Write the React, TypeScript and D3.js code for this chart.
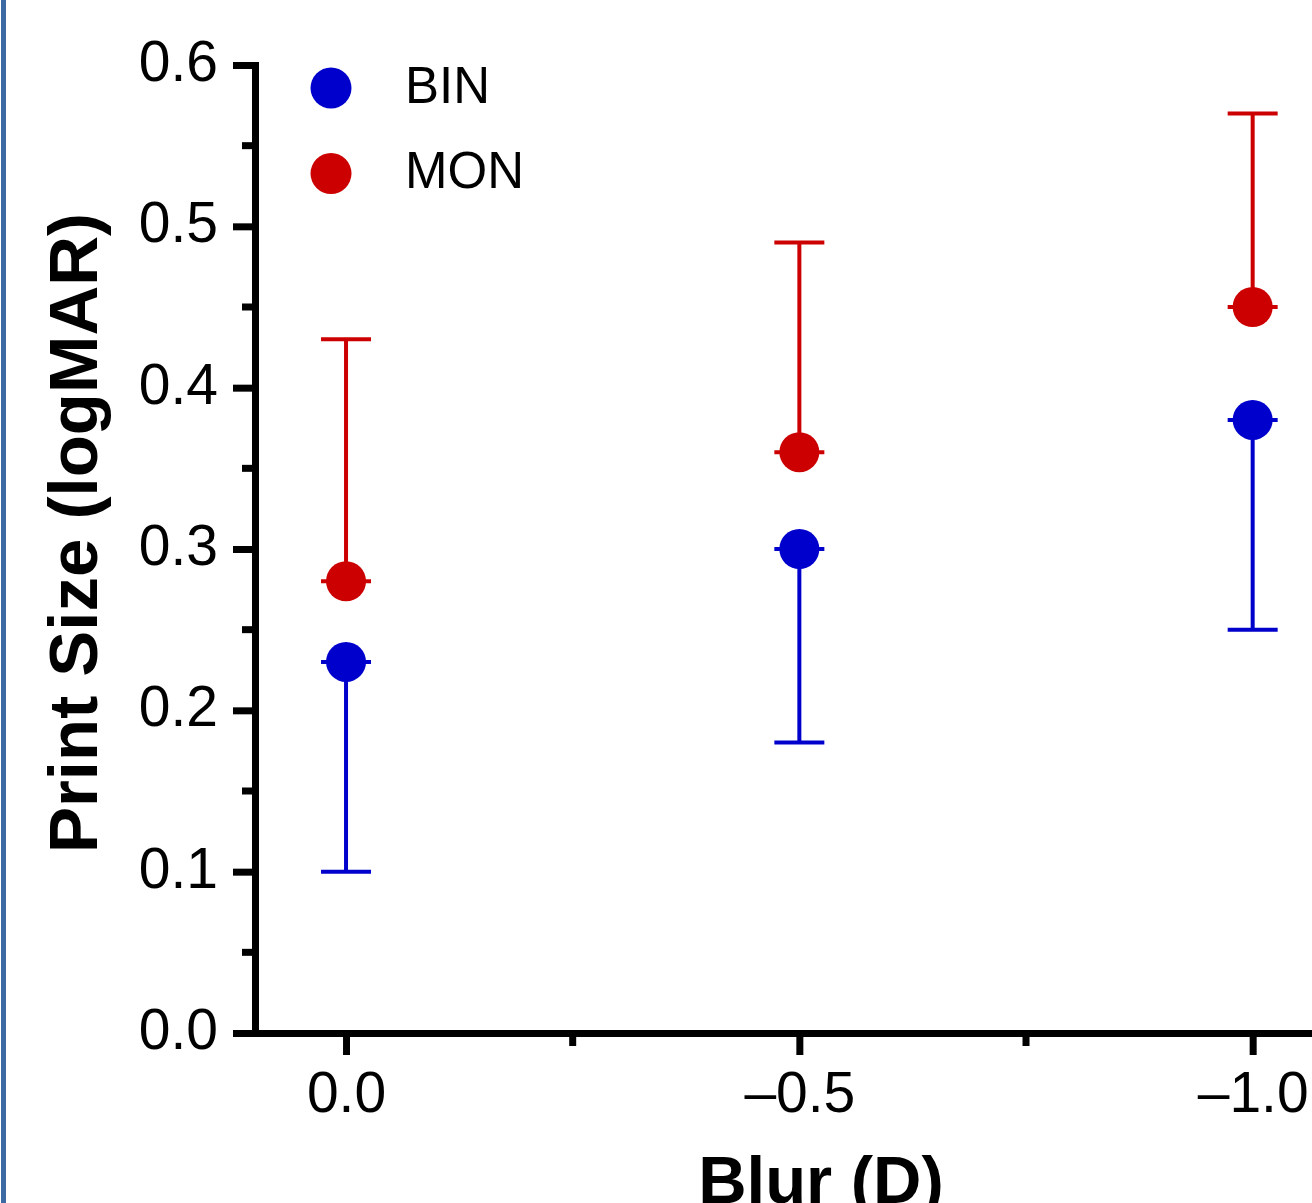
import React, { useRef, useEffect } from "react";
import { select, scaleLinear, axisLeft, axisBottom, format } from "d3";

// blur levels (D) and print size (logMAR)
const blurLevels = [0, -0.5, -1.0];
const binMeans = [0.23, 0.3, 0.38];
const binLower = [0.1, 0.18, 0.25];
const monMeans = [0.28, 0.36, 0.45];
const monUpper = [0.43, 0.49, 0.57];

const yTicks = [0, 0.1, 0.2, 0.3, 0.4, 0.5, 0.6];
const yMinorTicks = [0.05, 0.15, 0.25, 0.35, 0.45, 0.55];
const xTicks = [0, -0.5, -1.0];
const xMinorTicks = [-0.25, -0.75];

const BLUE = "#0000cc";
const RED = "#cc0000";
const FONT = "'Liberation Sans', Arial, Helvetica, sans-serif";

const App = () => {
  const ref = useRef(null);
  const width = 1312;
  const height = 1203;

  useEffect(() => {
    const svg = select(ref.current);
    svg.selectAll("*").remove();

    const axisX = 255;
    const axisY = 1033;

    const x = scaleLinear().domain([0.125, -1.125]).range([232.7, 1366]);
    const y = scaleLinear().domain([0, 0.6]).range([axisY, 65]);

    // left panel border
    svg
      .append("rect")
      .attr("x", 1)
      .attr("y", 0)
      .attr("width", 5)
      .attr("height", height)
      .attr("fill", "#3d6aa3");

    // y axis
    const yAxis = axisLeft(y)
      .tickValues(yTicks)
      .tickSize(22)
      .tickSizeOuter(0)
      .tickPadding(15)
      .tickFormat(format(".1f"));

    const yG = svg
      .append("g")
      .attr("transform", `translate(${axisX},0)`)
      .call(yAxis);
    yG.select(".domain")
      .attr("stroke-width", 7)
      .attr("stroke-linecap", "square");
    yG.selectAll(".tick line").attr("stroke-width", 7);
    yG.selectAll(".tick text")
      .attr("dy", "0.27em")
      .attr("font-size", 57)
      .attr("font-family", FONT)
      .attr("fill", "#000");

    yG.selectAll(".minor")
      .data(yMinorTicks)
      .enter()
      .append("line")
      .attr("class", "minor")
      .attr("x1", -13)
      .attr("x2", 0)
      .attr("y1", (d) => y(d))
      .attr("y2", (d) => y(d))
      .attr("stroke", "#000")
      .attr("stroke-width", 7);

    // x axis
    const xAxis = axisBottom(x)
      .tickValues(xTicks)
      .tickSize(22)
      .tickSizeOuter(0)
      .tickPadding(17)
      .tickFormat((d) =>
        d === 0 ? "0.0" : "\u2013" + Math.abs(d).toFixed(1)
      );

    const xG = svg
      .append("g")
      .attr("transform", `translate(0,${axisY})`)
      .call(xAxis);
    xG.select(".domain").attr("stroke-width", 7);
    xG.selectAll(".tick line").attr("stroke-width", 7);
    xG.selectAll(".tick text")
      .attr("font-size", 57)
      .attr("font-family", FONT)
      .attr("fill", "#000");

    xG.selectAll(".minor")
      .data(xMinorTicks)
      .enter()
      .append("line")
      .attr("class", "minor")
      .attr("x1", (d) => x(d))
      .attr("x2", (d) => x(d))
      .attr("y1", 0)
      .attr("y2", 13)
      .attr("stroke", "#000")
      .attr("stroke-width", 7);

    // axis titles
    svg
      .append("text")
      .attr("transform", "translate(97,533) rotate(-90)")
      .attr("text-anchor", "middle")
      .attr("font-family", FONT)
      .attr("font-weight", "bold")
      .attr("font-size", 69)
      .text("Print Size (logMAR)");

    // cut by the bottom edge, as in the source figure
    svg
      .append("text")
      .attr("x", 821)
      .attr("y", 1203)
      .attr("text-anchor", "middle")
      .attr("font-family", FONT)
      .attr("font-weight", "bold")
      .attr("font-size", 67)
      .text("Blur (D)");

    // series with one-sided error bars
    const series = [
      { name: "BIN", color: BLUE, means: binMeans, ends: binLower },
      { name: "MON", color: RED, means: monMeans, ends: monUpper },
    ];
    const capHalf = 25;

    series.forEach((s) => {
      const pts = blurLevels.map((b, i) => ({ b, m: s.means[i], e: s.ends[i] }));
      const g = svg.append("g");

      g.selectAll(".bar")
        .data(pts)
        .enter()
        .append("line")
        .attr("x1", (d) => x(d.b))
        .attr("x2", (d) => x(d.b))
        .attr("y1", (d) => y(d.m))
        .attr("y2", (d) => y(d.e))
        .attr("stroke", s.color)
        .attr("stroke-width", 4);

      [(d) => d.e, (d) => d.m].forEach((acc) => {
        g.selectAll(null)
          .data(pts)
          .enter()
          .append("line")
          .attr("x1", (d) => x(d.b) - capHalf)
          .attr("x2", (d) => x(d.b) + capHalf)
          .attr("y1", (d) => y(acc(d)))
          .attr("y2", (d) => y(acc(d)))
          .attr("stroke", s.color)
          .attr("stroke-width", 4);
      });

      g.selectAll("circle")
        .data(pts)
        .enter()
        .append("circle")
        .attr("cx", (d) => x(d.b))
        .attr("cy", (d) => y(d.m))
        .attr("r", 20)
        .attr("fill", s.color);
    });

    // legend
    const legend = svg.append("g");
    series.forEach((s, i) => {
      const cy = 88 + i * 85.5;
      legend
        .append("circle")
        .attr("cx", 331)
        .attr("cy", cy)
        .attr("r", 20.5)
        .attr("fill", s.color);
      legend
        .append("text")
        .attr("x", 405)
        .attr("y", cy + 14.5)
        .attr("font-family", FONT)
        .attr("font-size", 51)
        .attr("fill", "#000")
        .text(s.name);
    });
  }, []);

  return (
    <svg
      ref={ref}
      width={width}
      height={height}
      style={{ position: "absolute", left: 0, top: 0, display: "block", background: "#fff" }}
    ></svg>
  );
};

export default App;
